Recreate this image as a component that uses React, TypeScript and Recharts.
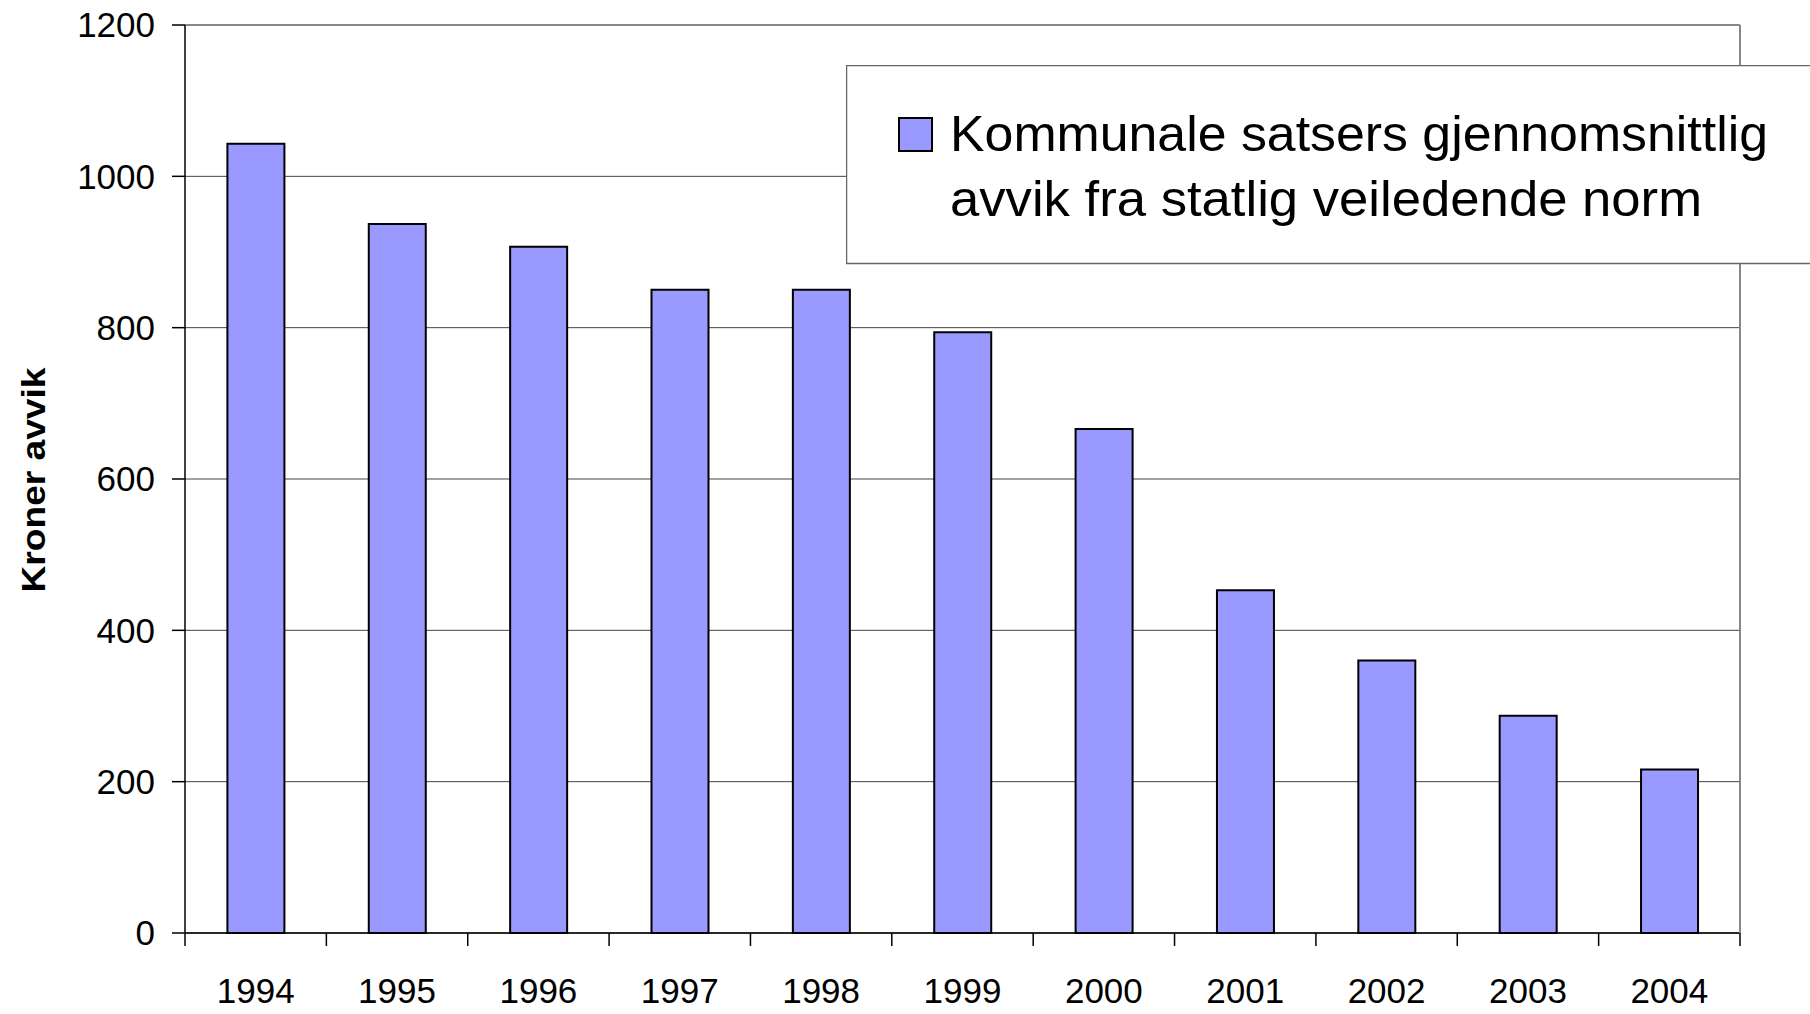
import React from 'react';
import { ComposedChart, Bar, Line, XAxis, YAxis, CartesianGrid, Legend, ReferenceLine } from 'recharts';

const years = ['1994', '1995', '1996', '1997', '1998', '1999', '2000', '2001', '2002', '2003', '2004'];
const avvik = [1043, 937, 907, 850, 850, 794, 666, 453, 360, 287, 216];
const yTicks = [0, 200, 400, 600, 800, 1000, 1200];
const seriesName = ['Kommunale satsers gjennomsnittlig', 'avvik fra statlig veiledende norm'];
const yTitle = 'Kroner avvik';

const data = years.map((y, i) => ({ year: y, avvik: avvik[i] }));

const FONT = '"Liberation Sans", Arial, Helvetica, sans-serif';
const W = 1810;
const H = 1014;
const Y_AXIS_W = 185;
const R_AXIS_W = 1;
const RIGHT = 69;
const PLOT_W = W - Y_AXIS_W - RIGHT - R_AXIS_W;
const HALF = PLOT_W / years.length / 2;
const X_TICK = 13;
const X_MARGIN = 32;
const BAR_FILL = '#9999FF';

const XTick = (props: any) => {
  const { x, y, payload, index } = props;
  const top = y - X_TICK - X_MARGIN;
  return (
    <g>
      <line x1={x - HALF} x2={x - HALF} y1={top} y2={top + X_TICK} stroke="#000" strokeWidth={1.5} />
      {index === years.length - 1 && (
        <line x1={x + HALF} x2={x + HALF} y1={top} y2={top + X_TICK} stroke="#000" strokeWidth={1.5} />
      )}
      <text x={x} y={y} dy="0.71em" textAnchor="middle" fontSize={35} fontFamily={FONT} fill="#000">
        {payload.value}
      </text>
    </g>
  );
};

const YTitle = () => (
  <text
    x={45}
    y={480}
    transform="rotate(-90, 45, 480)"
    textAnchor="middle"
    fontSize={33}
    fontWeight="bold"
    fontFamily={FONT}
    fill="#000"
    textLength={225}
    lengthAdjust="spacingAndGlyphs"
  >
    {yTitle}
  </text>
);

const LegendBox = () => (
  <svg width={964} height={200} style={{ display: 'block', overflow: 'hidden' }}>
    <rect x={0.5} y={0.5} width={1100} height={198} fill="#fff" stroke="#666" strokeWidth={1.5} />
    <rect x={53} y={53} width={33} height={33} fill={BAR_FILL} stroke="#000" strokeWidth={2} />
    <text x={104} y={86} fontSize={50} fontFamily={FONT} fill="#000" textLength={818} lengthAdjust="spacingAndGlyphs">
      {seriesName[0]}
    </text>
    <text x={104} y={151} fontSize={50} fontFamily={FONT} fill="#000" textLength={752} lengthAdjust="spacingAndGlyphs">
      {seriesName[1]}
    </text>
  </svg>
);

export default function App() {
  return (
    <div style={{ position: 'absolute', left: 0, top: 0, width: W, height: H, background: '#fff', overflow: 'hidden' }}>
      <ComposedChart
        width={W}
        height={H}
        data={data}
        margin={{ top: 25, right: RIGHT, left: 0, bottom: 0 }}
        barCategoryGap="30%"
      >
        <CartesianGrid yAxisId="left" horizontal vertical={false} stroke="#444" strokeWidth={1} />
        <XAxis
          dataKey="year"
          height={H - 933}
          interval={0}
          tickSize={X_TICK}
          tickMargin={X_MARGIN}
          tickLine={{ stroke: 'none' }}
          axisLine={{ stroke: '#000', strokeWidth: 1.5 }}
          tick={<XTick />}
        />
        <YAxis
          yAxisId="left"
          width={Y_AXIS_W}
          domain={[0, 1200]}
          ticks={yTicks}
          interval={0}
          tickSize={13}
          tickMargin={17}
          axisLine={{ stroke: '#000', strokeWidth: 1.5 }}
          tickLine={{ stroke: '#000', strokeWidth: 1.5 }}
          tick={{ fontSize: 35, fontFamily: FONT, fill: '#000' }}
          label={<YTitle />}
        />
        <YAxis
          yAxisId="right"
          orientation="right"
          width={R_AXIS_W}
          domain={[0, 1200]}
          ticks={yTicks}
          tick={false}
          tickLine={false}
          axisLine={{ stroke: '#888', strokeWidth: 2 }}
        />
        <ReferenceLine yAxisId="left" y={1200} stroke="#888" strokeWidth={2} />
        <Bar
          yAxisId="left"
          dataKey="avvik"
          name={seriesName.join(' ')}
          fill={BAR_FILL}
          stroke="#000"
          strokeWidth={2}
          isAnimationActive={false}
        />
        <Line
          yAxisId="right"
          dataKey="avvik"
          stroke="none"
          dot={false}
          activeDot={false}
          legendType="none"
          isAnimationActive={false}
        />
        <Legend
          layout="horizontal"
          align="center"
          verticalAlign="middle"
          content={<LegendBox />}
          wrapperStyle={{ position: 'absolute', left: 846, top: 65, width: 964, height: 200 }}
        />
      </ComposedChart>
    </div>
  );
}
